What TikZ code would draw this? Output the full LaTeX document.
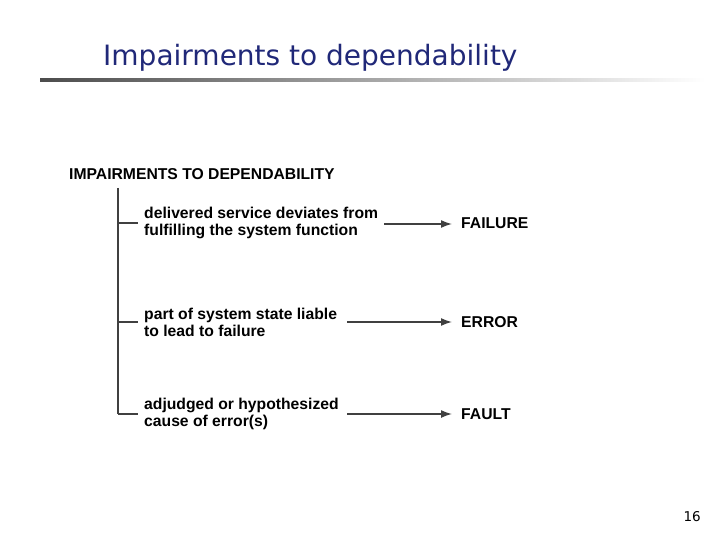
\documentclass[tikz,border=0pt]{standalone}
\usepackage{fontspec}
\setmainfont{Liberation Sans}
\newfontfamily\titlefont{DejaVu Sans}
\usetikzlibrary{arrows.meta}
\definecolor{titleblue}{RGB}{32,40,120}
\tikzset{
  lbl/.style={font=\fontsize{15.7}{17}\selectfont\bfseries, anchor=west, align=left, inner sep=0},
  res/.style={font=\fontsize{15.7}{17}\selectfont\bfseries, anchor=west, inner sep=0},
  arr/.style={draw=black!75, line width=1.5pt, -{Latex[length=11pt,width=8pt]}},
  tree/.style={draw=black!75, line width=1.5pt}
}
\begin{document}
\begin{tikzpicture}[x=1pt,y=-1pt]
\useasboundingbox (0,0) rectangle (720,540);
\node[anchor=west, inner sep=0, text=titleblue, font=\titlefont\fontsize{28}{32}\selectfont] (title) at (103,58) {Impairments to dependability};
\shade[left color=black!70, right color=white] (40,79) rectangle (705,82);
\node[res, anchor=west] (head) at (69,174) {IMPAIRMENTS TO DEPENDABILITY};
\coordinate (top) at (118,188);
\coordinate (b1) at (118,223);
\coordinate (b2) at (118,322);
\coordinate (b3) at (118,414);
\draw[tree] (top) -- (b3);
\node[lbl] (t1) at (144,223) {delivered service deviates from\\fulfilling the system function};
\node[lbl] (t2) at (144,322) {part of system state liable\\to lead to failure};
\node[lbl] (t3) at (144,414) {adjudged or hypothesized\\cause of error(s)};
\draw[tree] (b1) -- (138,223);
\draw[tree] (b2) -- (138,322);
\draw[tree] (b3) -- (138,414);
\node[res] (r1) at (461,223) {FAILURE};
\node[res] (r2) at (461,322) {ERROR};
\node[res] (r3) at (461,414) {FAULT};
\draw[arr] (384,224) -- (452,224);
\draw[arr] (347,322) -- (452,322);
\draw[arr] (347,414) -- (452,414);
\node[anchor=east, inner sep=0, font=\titlefont\fontsize{13.5}{15}\selectfont] (pg) at (701,517) {16};
\end{tikzpicture}
\end{document}
